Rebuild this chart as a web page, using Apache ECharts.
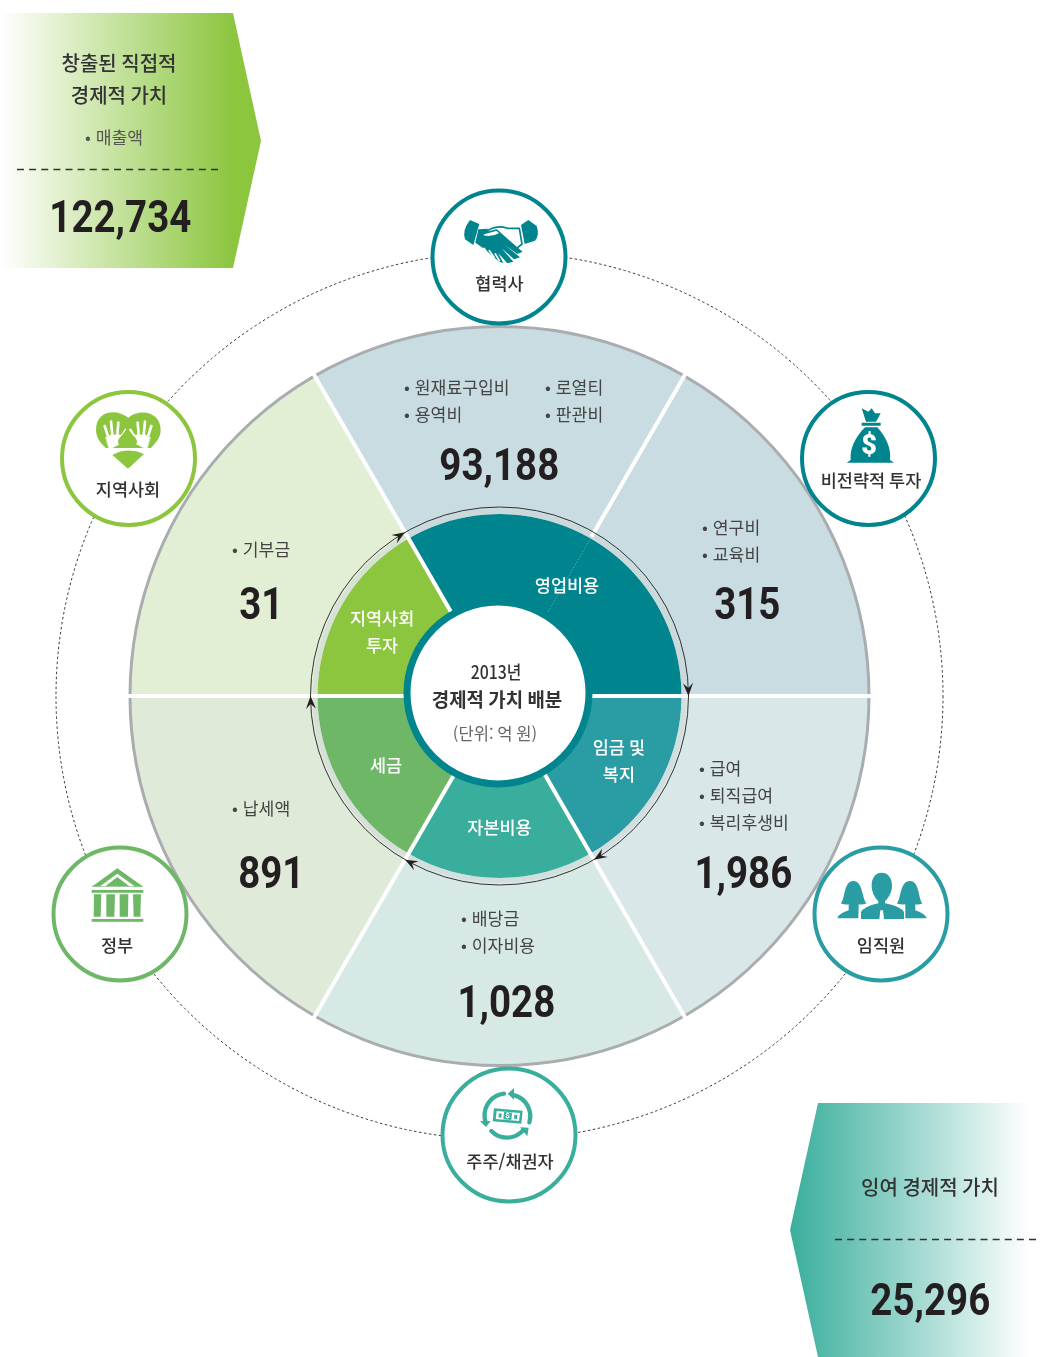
<!DOCTYPE html>
<html lang="ko"><head><meta charset="utf-8">
<style>html,body{margin:0;padding:0;background:#fff}#c{width:1041px;height:1357px}</style>
<script src="https://cdn.jsdelivr.net/npm/echarts@6/dist/echarts.min.js"></script>
</head><body><div id="c"></div>
<script>
// ---- data ----
var outerGroups = ['협력사','비전략적 투자','임직원','주주/채권자','정부','지역사회'];
var outerSlots  = [1,1,1,1,1,1];
var outerValues = [93188,315,1986,1028,891,31];
var outerItems  = [['원재료구입비','용역비','로열티','판관비'],['연구비','교육비'],['급여','퇴직급여','복리후생비'],['배당금','이자비용'],['납세액'],['기부금']];
var innerGroups = ['영업비용','임금 및\n복지','자본비용','세금','지역사회\n투자'];
var innerSlots  = [2,1,1,1,1];
var createdValue = 122734, surplusValue = 25296;

// ---- layout / style ----
var CX=499.5, CY=696, R=370, RI=182, RARC=189;
var outerColors=['#c9dce1','#c9dce1','#d9e7e8','#d7e9e5','#dfead9','#e3efd5'];
var innerColors=['#00858f','#2a9ca3','#39ae9c','#6db766','#8cc63f'];
var innerLabelOffsets=[[-2,10],[-1,-5],[0,-8],[7,0],[3,5]];
var FONT='"Noto Sans CJK KR","Noto Sans",sans-serif';
var TEAL='#00858f',GREEN='#8cc63f',GOV='#6db766',STAFF='#2a9ca3',SH='#39ae9c';
var numFont='Roboto';

function pol(deg,r){var a=deg*Math.PI/180;return [CX+r*Math.sin(a),CY-r*Math.cos(a)];}
function txt(s,x,y,o){o=o||{};return {type:'text',x:x,y:y,z:o.z||40,scaleX:o.sx||1,silent:true,style:{text:s,fontFamily:o.family||FONT,fontSize:o.size||17.5,fontWeight:o.weight||'normal',fill:o.color||'#444',align:o.align||'center',verticalAlign:'middle'}};}
function num(v,x,y){return txt(v.toLocaleString('en-US'),x+.3,y+5,{family:numFont,size:44,weight:700,color:'#231f20',sx:.875});}
function line(a,b,w,c,z,dash){return {type:'line',z:z,silent:true,shape:{x1:a[0],y1:a[1],x2:b[0],y2:b[1]},style:{stroke:c,lineWidth:w,lineDash:dash||null}};}
var icN=0;
function ic(path,ox,oy,fill,stroke,lw){
  var nm='iconShape'+(icN++);
  echarts.graphic.registerShape(nm,echarts.graphic.extendPath(path,{}));
  return {type:nm,x:ox,y:oy,scaleX:1/3,scaleY:1/3,z:35,silent:true,style:{fill:fill||'none',stroke:stroke||'none',lineWidth:lw||0,lineCap:'round',lineJoin:'round'}};
}

var g=[];
// banners
g.push({type:'polygon',z:5,silent:true,shape:{points:[[0,13],[233,13],[261,141],[233,268],[0,268]]},style:{fill:{type:'linear',x:0,y:0,x2:1,y2:0,colorStops:[{offset:0,color:'#ffffff'},{offset:.89,color:GREEN},{offset:1,color:GREEN}]}}});
g.push({type:'polygon',z:5,silent:true,shape:{points:[[818,1103],[1041,1103],[1041,1357],[818,1357],[790,1230]]},style:{fill:{type:'linear',x:0,y:0,x2:1,y2:0,colorStops:[{offset:0,color:SH},{offset:.956,color:'#ffffff'},{offset:1,color:'#ffffff'}]}}});
g.push(line([17,169.5],[218,169.5],1.3,'#333',6,[7,5.125]));
g.push(line([835,1239.5],[1037,1239.5],1.3,'#333',6,[7,5.125]));
g.push(txt('창출된 직접적',119,63,{size:20,weight:500,color:'#333'}));
g.push(txt('경제적 가치',119,95,{size:20,weight:500,color:'#333'}));
g.push(txt('• \u200A매출액',114,137,{size:17.2,color:'#555'}));
g.push(num(createdValue,120,216));
g.push(txt('잉여 경제적 가치',930,1187,{size:20,weight:500,color:'#333'}));
g.push(num(surplusValue,930,1299));

// dotted circle
g.push({type:'circle',z:1,silent:true,shape:{cx:CX,cy:CY,r:443.5},style:{fill:'none',stroke:'#333',lineWidth:1,lineDash:[2.5,2.5]}});
// outer edge and light band
g.push({type:'circle',z:9,silent:true,shape:{cx:CX,cy:CY,r:R-.5},style:{fill:'none',stroke:'#a9adb0',lineWidth:3}});
g.push({type:'circle',z:8,silent:true,shape:{cx:CX,cy:CY,r:RI+2.5},style:{fill:'none',stroke:'rgba(205,215,215,.55)',lineWidth:5}});

// dividers, angles taken from the slot arrays
var START=-30, tot=outerSlots.reduce(function(a,b){return a+b;},0), ang=START;
outerSlots.forEach(function(s,i){
  var isInnerEdge=(i!==1);
  g.push(line(pol(ang,isInnerEdge?90:RI+2),pol(ang,R+1.5),4,'#fff',10));
  if(!isInnerEdge) g.push(line(pol(ang,94),pol(ang,RI),.7,'rgba(190,225,225,.55)',10,[1.5,1.5]));
  ang+=s*360/tot;
});

// arrows on the ring
g.push({type:'circle',z:14,silent:true,shape:{cx:CX,cy:CY,r:RARC},style:{fill:'none',stroke:'#333',lineWidth:1}});
var sum=innerSlots.reduce(function(a,b){return a+b;},0); ang=START;
innerSlots.forEach(function(s){
  ang+=s*360/sum;
  var tip=pol(ang,RARC), mid=pol(ang-2.4,RARC),
      l=pol(ang-3.9,RARC+5), r=pol(ang-3.9,RARC-5);
  g.push({type:'polygon',z:15,silent:true,shape:{points:[tip,l,mid,r]},style:{fill:'#231f20'}});
});

// centre
g.push({type:'circle',z:20,silent:true,shape:{cx:498,cy:693,r:91},style:{fill:'#fff',stroke:TEAL,lineWidth:7}});
g.push(txt('2013년',496,672,{size:18,weight:500,color:'#333',sx:.88}));
g.push(txt('경제적 가치 배분',497,700,{size:19.5,weight:700,color:'#333',sx:.97}));
g.push(txt('(단위: 억 원)',495,733.5,{size:16.6,color:'#666'}));

// outer sector text
var itemPos=[[[404,387],[404,414],[545,387],[545,414]],[[702,527],[702,554]],[[699,768],[699,795],[699,822]],[[461,918],[461,945]],[[232,808]],[[232,549]]];
var numPos=[[499,464],[747,603],[743,872],[506,1001],[271,872],[261,603]];
outerItems.forEach(function(list,i){
  list.forEach(function(t,j){g.push(txt('• \u200A'+t,itemPos[i][j][0],itemPos[i][j][1],{size:17.2,align:'left',color:'#444'}));});
  g.push(num(outerValues[i],numPos[i][0],numPos[i][1]));
});

// badges
var badges=[[499,257,TEAL,'협력사',499.5,283],[868.5,458.5,TEAL,'비전략적 투자',871,480],[881,914,STAFF,'임직원',881,945],[509,1135,SH,'주주/채권자',510,1161],[120,914,GOV,'정부',117,945],[128.5,458.5,GREEN,'지역사회',128,489]];
badges.forEach(function(b){
  g.push({type:'circle',z:30,silent:true,shape:{cx:b[0],cy:b[1],r:66.5},style:{fill:'#fff',stroke:b[2],lineWidth:4}});
  g.push(txt(b[3],b[4],b[5],{size:17.5,weight:500,color:'#333'}));
});

// icons, traced in 3x crop coordinates
// handshake
var o=[420,180];
g.push(ic('M150,120 L178,132 L160,195 L135,178 Q126,150 150,120 Z',o[0],o[1],TEAL));
g.push(ic('M325,120 L350,138 Q360,165 345,182 L314,192 L303,135 Z',o[0],o[1],TEAL));
g.push(ic('M192,160 Q225,132 262,145 L298,145 L306,192 L290,205 L230,150 Z',o[0],o[1],'#fff',TEAL,5));
g.push(ic('M175,148 L205,146 L190,166 Q215,172 240,158 L308,215 L292,222 L255,195 L300,232 L282,238 L245,205 L280,245 L262,250 L235,220 L250,250 L238,245 L190,205 L166,188 Z',o[0],o[1],TEAL));
g.push(ic('M192,205 L204,222 M208,212 L222,232 M226,222 L238,242',o[0],o[1],'none','#fff',5));
// money bag
o=[790,380];
g.push(ic('M215,85 L235,95 L245,85 L255,100 L272,100 L258,125 L228,125 Z M215,128 L272,128 L272,137 L215,137 Z M225,142 L262,142 Q305,190 300,240 L312,248 L170,248 L182,240 Q178,190 225,142 Z',o[0],o[1],TEAL));
g.push(txt('$',869,447,{family:'Roboto',size:27,weight:900,color:'#fff',z:36}));
// heart with hands
o=[50,380];
g.push(ic('M235,113 C200,85 138,90 138,150 C138,180 160,195 168,205 L302,205 C315,190 332,175 332,150 C332,95 270,85 235,113 Z',o[0],o[1],GREEN));
g.push(ic('M168,172 L182,165 L215,165 L225,150 L222,185 L178,208 Z M300,172 L286,165 L253,165 L243,150 L246,185 L290,208 Z',o[0],o[1],'#fff','#fff',2));
g.push(ic('M176,175 L164,138 M187,165 L183,125 M202,165 L205,128 M216,170 L227,150 M292,175 L304,138 M281,165 L285,125 M266,165 L263,128 M252,170 L241,150',o[0],o[1],'none','#fff',8));
g.push(ic('M232,138 C240,165 268,175 260,190 C250,207 213,207 205,190 C198,175 225,165 232,138 Z',o[0],o[1],GREEN));
g.push(ic('M160,205 L310,205 L310,212 L160,212 Z',o[0],o[1],'#fff'));
g.push(ic('M187,225 Q232,200 282,222 L234,266 Z',o[0],o[1],GREEN));
// temple
o=[40,835];
g.push(ic('M232,100 L310,155 L155,155 Z',o[0],o[1],GOV));
g.push(ic('M232,116 L284,154 L180,154 Z',o[0],o[1],'#fff'));
g.push(ic('M232,126 L268,154 L196,154 Z M155,165 L310,165 L310,173 L155,173 Z M162,178 L184,178 L182,245 L161,245 Z M199,178 L225,178 L223,245 L199,245 Z M239,178 L265,178 L264,245 L239,245 Z M279,178 L303,178 L301,245 L281,245 Z M155,252 L310,252 L310,260 L155,260 Z',o[0],o[1],GOV));
// people
o=[800,835];
g.push(ic('M122,205 C136,195 130,138 160,138 C190,138 186,195 200,205 Q188,210 176,208 L175,250 L112,250 Q115,236 146,226 L146,208 Q134,210 122,205 Z',o[0],o[1],STAFF));
g.push(ic('M290,205 C304,195 298,138 330,138 C360,138 354,195 368,205 Q356,210 346,208 L346,226 Q376,236 380,250 L316,250 L316,208 Q302,210 290,205 Z',o[0],o[1],STAFF));
g.push(ic('M245,113 C225,113 214,130 215,155 C216,175 228,192 235,198 L235,205 Q190,215 183,232 L183,252 L238,252 L241,226 L249,226 L252,252 L312,252 L312,232 Q305,215 255,205 L255,198 C262,192 275,175 276,155 C277,130 265,113 245,113 Z',o[0],o[1],STAFF));
// cycle of money
o=[430,1055];
g.push(ic('M222,116 A65,65 0 0 0 166,198 M184,228 A65,65 0 0 0 280,225 M298,202 A65,65 0 0 0 250,120',o[0],o[1],'none',SH,13));
g.push(ic('M150,198 L182,198 L168,216 Z M270,217 L296,218 L292,244 Z M252,100 L252,134 L233,116 Z',o[0],o[1],SH));
g.push(ic('M192,160 L278,167 L274,206 L188,199 Z',o[0],o[1],SH));
g.push(ic('M200,168 L270,174 L267,198 L197,192 Z',o[0],o[1],'#fff'));
g.push(ic('M222,171 L246,173 L244,195 L220,193 Z M207,175 L215,176 L214,188 L205,187 Z M253,179 L262,180 L261,192 L252,191 Z',o[0],o[1],SH));
g.push(txt('$',507.5,1116,{family:'Roboto',size:8,weight:700,color:'#fff',z:36}));

var pieBase={type:'pie',center:[CX,CY],startAngle:90-START,clockwise:true,silent:true,animation:false,avoidLabelOverlap:false,labelLine:{show:false},emphasis:{disabled:true}};
var option={
  animation:false,backgroundColor:'#fff',
  series:[
    Object.assign({},pieBase,{name:'outer',z:2,radius:[0,R],label:{show:false},
      data:outerGroups.map(function(n,i){return {name:n,value:outerSlots[i],itemStyle:{color:outerColors[i]}};})}),
    Object.assign({},pieBase,{name:'inner',z:3,radius:[90,RI],
      label:{show:true,position:'inside',color:'#fff',fontFamily:FONT,fontSize:17.5,fontWeight:500,lineHeight:27,formatter:'{b}'},
      data:innerGroups.map(function(n,i){return {name:n,value:innerSlots[i],itemStyle:{color:innerColors[i]},label:{offset:innerLabelOffsets[i]}};})})
  ],
  graphic:{elements:g}
};
echarts.init(document.getElementById('c'),null,{renderer:'canvas'}).setOption(option);
</script></body></html>
